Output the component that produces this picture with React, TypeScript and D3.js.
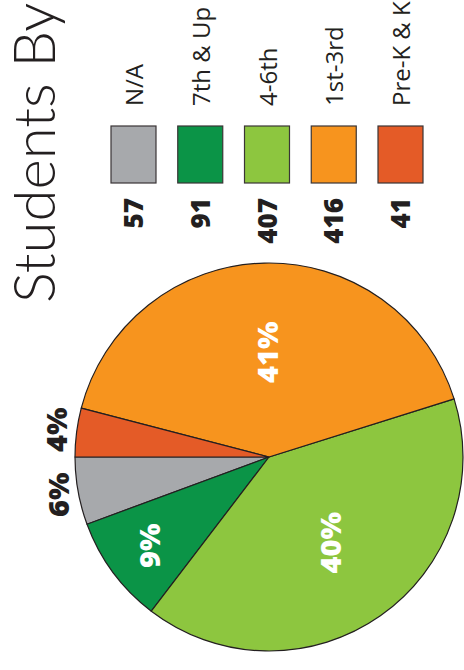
import React from "react";
import * as d3 from "d3";

const categories = ["N/A", "7th & Up", "4-6th", "1st-3rd", "Pre-K & K"];
const counts = [57, 91, 407, 416, 41];
const colors = ["#A7A9AC", "#0B9447", "#8DC63F", "#F7941E", "#E45B27"];
const title = "Students By Grade";

const W = 464;
const H = 670;

export default function App() {
  const total = d3.sum(counts);
  const cx = 269;
  const cy = 457;
  const r = 194;

  const pie = d3
    .pie<number>()
    .sort(null)
    .value((d) => d)
    .startAngle(1.5 * Math.PI)
    .endAngle(-0.5 * Math.PI);
  const arcs = pie(counts);
  const arcGen = d3.arc<d3.PieArcDatum<number>>().innerRadius(0).outerRadius(r);

  const legendX = d3
    .scalePoint<string>()
    .domain(categories)
    .range([133.5, 400.5]);

  const fmt = (v: number) => `${Math.round((v / total) * 100)}%`;

  return (
    <svg
      width={W}
      height={H}
      style={{ position: "absolute", left: 0, top: 0, background: "#fff" }}
    >
      <text
        transform={`translate(55,303) rotate(-90)`}
        fontFamily="Lato, 'Open Sans', sans-serif"
        fontWeight={300}
        fontSize={58}
        fill="#231F20"
      >
        {title}
      </text>

      {categories.map((c, i) => {
        const x = legendX(c) as number;
        return (
          <g key={c}>
            <rect
              x={x - 22.5}
              y={126}
              width={45}
              height={57}
              fill={colors[i]}
              stroke="#3a3536"
              strokeWidth={1.2}
            />
            <text
              transform={`translate(${x + 9.5},106) rotate(-90)`}
              fontFamily="'Open Sans', sans-serif"
              fontSize={24}
              fill="#231F20"
            >
              {c}
            </text>
            <text
              transform={`translate(${x + 9.5},198) rotate(-90)`}
              textAnchor="end"
              fontFamily="'Open Sans', sans-serif"
              fontWeight={800}
              fontSize={26}
              fill="#231F20"
            >
              {counts[i]}
            </text>
          </g>
        );
      })}

      <g transform={`translate(${cx},${cy})`}>
        {arcs.map((a, i) => (
          <path
            key={categories[i]}
            d={arcGen(a) as string}
            fill={colors[i]}
            stroke="#231F20"
            strokeWidth={1.2}
            strokeLinejoin="round"
          />
        ))}
        {arcs.map((a, i) => {
          const frac = counts[i] / total;
          const mid = (a.startAngle + a.endAngle) / 2;
          let rr: number;
          let fill: string;
          if (frac < 0.08) {
            rr = r + 21;
            fill = "#231F20";
          } else if (frac < 0.2) {
            rr = r * 0.77;
            fill = "#fff";
          } else {
            rr = r * 0.54;
            fill = "#fff";
          }
          const x = Math.sin(mid) * rr;
          const y = -Math.cos(mid) * rr;
          return (
            <text
              key={"l" + categories[i]}
              transform={`translate(${x},${y}) rotate(-90)`}
              textAnchor="middle"
              dominantBaseline="central"
              fontFamily="'Open Sans', sans-serif"
              fontWeight={800}
              fontSize={29}
              fill={fill}
            >
              {fmt(counts[i])}
            </text>
          );
        })}
      </g>
    </svg>
  );
}
